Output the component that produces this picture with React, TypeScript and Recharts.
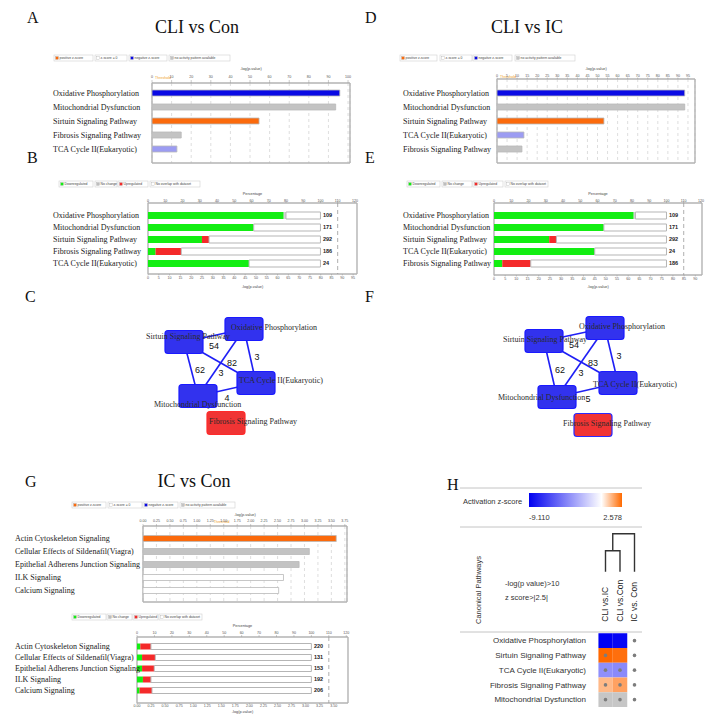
// Figure : IPA canonical pathways — CLI vs Con / CLI vs IC / IC vs Con
// Panneaux A-G dessinés avec recharts, texte statique en surcouche SVG.

import {
  BarChart, Bar, XAxis, YAxis, CartesianGrid, Cell, LabelList,
  ReferenceLine, ScatterChart, Scatter,
} from 'recharts';

const SERIF = '"Liberation Serif", "Times New Roman", serif';
const SANS = '"Liberation Sans", Arial, sans-serif';

// ── A : CLI vs Con, -log(p-value) ───────────────────────────
const pathwaysA = [
  'Oxidative Phosphorylation', 'Mitochondrial Dysfunction', 'Sirtuin Signaling Pathway',
  'Fibrosis Signaling Pathway', 'TCA Cycle II(Eukaryotic)',
];
const logPA = [95.8, 93.7, 54.6, 14.9, 12.7];
const zKindA = ['negative', 'noActivity', 'positive', 'noActivity', 'weakNegative'];
const ticksA = [0, 10, 20, 30, 40, 50, 60, 70, 80, 90, 100];

// ── B : CLI vs Con, % of genes ──────────────────────────────
const downB = [78.7, 61.3, 31.3, 4.4, 58.6];
const noChangeB = [1.3, 0, 0, 0, 0];
const upB = [0, 0, 4.1, 14.9, 0];
const totalB = [109, 171, 292, 186, 24];
const pTicksB = [0, 5, 10, 15, 20, 25, 30, 35, 40, 45, 50, 55, 60, 65, 70, 75, 80, 85, 90, 95];

// ── D : CLI vs IC, -log(p-value) ────────────────────────────
const pathwaysD = [
  'Oxidative Phosphorylation', 'Mitochondrial Dysfunction', 'Sirtuin Signaling Pathway',
  'TCA Cycle II(Eukaryotic)', 'Fibrosis Signaling Pathway',
];
const logPD = [93.4, 93.4, 53.2, 13.4, 12.4];
const zKindD = ['negative', 'noActivity', 'positive', 'weakNegative', 'noActivity'];
const ticksD = [0, 5, 10, 15, 20, 25, 30, 35, 40, 45, 50, 55, 60, 65, 70, 75, 80, 85, 90, 95];

// ── E : CLI vs IC, % of genes ───────────────────────────────
const downE = [81.0, 63.7, 32.0, 58.4, 4.8];
const noChangeE = [1.0, 0, 0, 0, 0];
const upE = [0, 0, 4.2, 0, 16.5];
const totalE = [109, 171, 292, 24, 186];
const pTicksE = [0, 5, 10, 15, 20, 25, 30, 35, 40, 45, 50, 55, 60, 65, 70, 75, 80, 85, 90];

// ── G : IC vs Con ───────────────────────────────────────────
const pathwaysG = [
  'Actin Cytoskeleton Signaling', 'Cellular Effects of Sildenafil(Viagra)',
  'Epithelial Adherens Junction Signaling', 'ILK Signaling', 'Calcium Signaling',
];
const logPG = [3.59, 3.09, 2.9, 2.61, 2.52];
const zKindG = ['positive', 'noActivity', 'noActivity', 'zero', 'zero'];
const ticksG = [0, 0.25, 0.5, 0.75, 1, 1.25, 1.5, 1.75, 2, 2.25, 2.5, 2.75, 3, 3.25, 3.5, 3.75];
const downG = [1.9, 2.9, 2.9, 3.4, 1.5];
const noChangeG = [0, 0, 0, 0, 0];
const upG = [6.1, 7.6, 7.0, 4.6, 7.1];
const totalG = [220, 131, 153, 192, 206];
const pTicksG = [0, 0.25, 0.5, 0.75, 1, 1.25, 1.5, 1.75, 2, 2.25, 2.5, 2.75, 3, 3.25, 3.5];

const pctTicks = [0, 10, 20, 30, 40, 50, 60, 70, 80, 90, 100, 110, 120];
const THRESHOLD = 1.3;

// ── C / F : réseaux ─────────────────────────────────────────
const netNames = [
  'Oxidative Phosphorylation', 'Sirtuin Signaling Pathway', 'TCA Cycle II(Eukaryotic)',
  'Mitochondrial Dysfunction', 'Fibrosis Signaling Pathway',
];
const netDirection = ['down', 'down', 'down', 'down', 'up'];
const edgeFrom = [1, 1, 0, 1, 0, 3];
const edgeTo = [0, 2, 2, 3, 3, 2];
const sharedC = [54, 82, 3, 62, 3, 4];
const sharedF = [54, 83, 3, 62, 3, 5];
// positions du layout (px, centres)
const nodeXC = [244, 184, 256, 198, 226];
const nodeYC = [329, 342, 383, 396, 423];
const nodeLabelXC = [231, 146, 239, 154, 209];
const nodeLabelYC = [327, 336, 380, 404, 421];
const edgeLabelXC = [214, 232, 257, 200, 221, 227];
const edgeLabelYC = [346, 363, 357, 370, 373, 398];
const nodeXF = [605, 544, 618, 557, 593];
const nodeYF = [328, 341, 383, 397, 425];
const nodeLabelXF = [579, 503, 593, 498, 563];
const nodeLabelYF = [326, 339, 384, 397, 423];
const edgeLabelXF = [574, 593, 619, 560, 581, 588];
const edgeLabelYF = [345, 363, 356, 370, 373, 399];

// ── H : heatmap z-score ─────────────────────────────────────
const hmRows = [
  'Oxidative Phosphorylation', 'Sirtuin Signaling Pathway', 'TCA Cycle II(Eukaryotic)',
  'Fibrosis Signaling Pathway', 'Mitochondrial Dysfunction',
];
const hmCols = ['CLI vs.IC', 'CLI vs.Con', 'IC vs. Con'];
// null = no activity pattern ; undefined = pas significatif
const zCliIc = [-9.11, 2.578, -4.0, 1.2, null];
const zCliCon = [-8.9, 2.45, -4.2, 1.6, null];
const zIcCon = [undefined, undefined, undefined, undefined, undefined];
const dotCliIc = [false, true, true, true, true];
const dotCliCon = [false, false, true, true, true];
const dotIcCon = [true, true, true, true, true];
const Z_MIN = -9.11;
const Z_MAX = 2.578;
// dendrogramme : hauteurs de fusion (unités de ligne)
const dendroLeaf = -4.67;
const dendroInner = -6.09;
const dendroOuter = -7.25;

const Z_FILL: Record<string, string> = {
  positive: '#fb6a0c', zero: '#ffffff', negative: '#0a0ae4',
  weakNegative: '#9c9cf2', noActivity: '#c3c3c3',
};

type Frame = {
  left: number; top: number; plotLeft: number; plotTop: number; plotRight: number;
  plotBottom: number; bottom: number; labelX: number; padTop: number; padBottom: number;
};

const frameA: Frame = { left: 50, top: 65, plotLeft: 152, plotTop: 83, plotRight: 350, plotBottom: 163, bottom: 165, labelX: 53, padTop: 3, padBottom: 7 };
const frameD: Frame = { left: 400, top: 65, plotLeft: 497, plotTop: 79, plotRight: 695, plotBottom: 163, bottom: 165, labelX: 403, padTop: 7, padBottom: 7 };
const frameG: Frame = { left: 12, top: 511, plotLeft: 143, plotTop: 526, plotRight: 347, plotBottom: 602, bottom: 604, labelX: 15, padTop: 5.5, padBottom: 5.5 };
const frameB: Frame = { left: 50, top: 190, plotLeft: 148, plotTop: 203, plotRight: 357, plotBottom: 274, bottom: 289, labelX: 53, padTop: 6, padBottom: 5 };
const frameE: Frame = { left: 400, top: 190, plotLeft: 494, plotTop: 203, plotRight: 702, plotBottom: 275, bottom: 289, labelX: 403, padTop: 6, padBottom: 6 };
const frameG2: Frame = { left: 12, top: 622, plotLeft: 137, plotTop: 637, plotRight: 348, plotBottom: 703, bottom: 714, labelX: 15, padTop: 3.5, padBottom: 7.5 };

const tickFont = { fontSize: 3.6, fill: '#555', fontFamily: SANS };

function frameGrid(f: Frame, xAxisId?: string) {
  const extra = xAxisId ? { xAxisId } : {};
  return (
    <CartesianGrid
      {...extra}
      stroke="#b3b3b3"
      strokeWidth={1.4}
      horizontalCoordinatesGenerator={() => [f.plotTop - f.top, f.plotBottom - f.top]}
      verticalCoordinatesGenerator={() => [f.plotLeft - f.left, f.plotRight - f.left]}
    />
  );
}

function nameTick(f: Frame, dy: number) {
  return (p: any) => (
    <text x={f.labelX - f.left} y={p.y + dy} fontFamily={SERIF} fontSize={8} fill="#1a1a1a">
      {p.payload.value}
    </text>
  );
}

function ThresholdLabel({ viewBox, ty }: { viewBox?: { x: number }; ty: number }) {
  return (
    <text x={(viewBox?.x ?? 0) + 0.5} y={ty} fontSize={3.6} fill="#f0a028" fontFamily={SANS}>
      Threshold
    </text>
  );
}

function PValueBars({
  f, names, values, kinds, max, ticks, barSize, tickSize, tickMargin, thrY, fmt,
}: {
  f: Frame; names: string[]; values: number[]; kinds: string[]; max: number; ticks: number[];
  barSize: number; tickSize: number; tickMargin: number; thrY: number; fmt?: (v: number) => string;
}) {
  const data = names.map((name, i) => ({ name, value: values[i], kind: kinds[i] }));
  return (
    <div style={{ position: 'absolute', left: f.left, top: f.top }}>
      <BarChart
        width={f.plotRight - f.left + 4}
        height={f.bottom - f.top}
        data={data}
        layout="vertical"
        margin={{ top: 0, right: 4, bottom: f.bottom - f.plotBottom, left: 0 }}
      >
        <CartesianGrid horizontal={false} stroke="#c8c8c8" strokeWidth={0.6} strokeDasharray="3 3" />
        {frameGrid(f)}
        <XAxis
          type="number" orientation="top" domain={[0, max]} ticks={ticks} interval={0}
          height={f.plotTop - f.top} axisLine={false} tickSize={tickSize} tickMargin={tickMargin}
          tickLine={{ stroke: '#999', strokeWidth: 0.5 }} tick={tickFont} tickFormatter={fmt}
          allowDataOverflow
          label={{ value: '-log(p-value)', position: 'insideTop', offset: 2, fontSize: 3.8, fill: '#444', fontFamily: SANS }}
        />
        <YAxis
          type="category" dataKey="name" width={f.plotLeft - f.left} axisLine={false} tickLine={false}
          interval={0} padding={{ top: f.padTop, bottom: f.padBottom }} tick={nameTick(f, 2.6)}
        />
        <ReferenceLine x={THRESHOLD} stroke="none" label={<ThresholdLabel ty={thrY - f.top} />} />
        <Bar dataKey="value" barSize={barSize} stroke="#b9b9b9" strokeWidth={0.8} isAnimationActive={false}>
          {data.map((d, i) => <Cell key={i} fill={Z_FILL[d.kind]} />)}
        </Bar>
      </BarChart>
    </div>
  );
}

function PercentBars({
  f, names, down, noChange, up, totals, pctMax, pMax, pTicks, barSize, topTick, bottomTick, fmt,
}: {
  f: Frame; names: string[]; down: number[]; noChange: number[]; up: number[]; totals: number[];
  pctMax: number; pMax: number; pTicks: number[]; barSize: number;
  topTick: [number, number]; bottomTick: [number, number]; fmt?: (v: number) => string;
}) {
  const data = names.map((name, i) => ({
    name, down: down[i], noChange: noChange[i], up: up[i],
    rest: 100 - down[i] - noChange[i] - up[i], total: totals[i],
  }));
  return (
    <div style={{ position: 'absolute', left: f.left, top: f.top }}>
      <BarChart
        width={f.plotRight - f.left + 4}
        height={f.bottom - f.top}
        data={data}
        layout="vertical"
        margin={{ top: 0, right: 4, bottom: 0, left: 0 }}
      >
        {frameGrid(f, 'pct')}
        <XAxis
          xAxisId="pct" type="number" orientation="top" domain={[0, pctMax]} ticks={pctTicks} interval={0}
          height={f.plotTop - f.top} axisLine={false} tickSize={topTick[0]} tickMargin={topTick[1]}
          tickLine={{ stroke: '#999', strokeWidth: 0.5 }} tick={tickFont} allowDataOverflow
          label={{ value: 'Percentage', position: 'insideTop', offset: 2, fontSize: 3.8, fill: '#444', fontFamily: SANS }}
        />
        <XAxis
          xAxisId="p" type="number" orientation="bottom" domain={[0, pMax]} ticks={pTicks} interval={0}
          height={f.bottom - f.plotBottom} axisLine={false} tickSize={bottomTick[0]} tickMargin={bottomTick[1]}
          tickLine={{ stroke: '#999', strokeWidth: 0.5 }} tick={tickFont} tickFormatter={fmt} allowDataOverflow
          label={{ value: '-log(p-value)', position: 'insideBottom', offset: 1, fontSize: 3.8, fill: '#444', fontFamily: SANS }}
        />
        <YAxis
          type="category" dataKey="name" width={f.plotLeft - f.left} axisLine={false} tickLine={false}
          interval={0} padding={{ top: f.padTop, bottom: f.padBottom }} tick={nameTick(f, 2.6)}
        />
        <ReferenceLine xAxisId="pct" x={110} stroke="#9a9a9a" strokeWidth={0.8} strokeDasharray="4 3" />
        <Bar xAxisId="pct" dataKey="down" stackId="s" barSize={barSize} fill="#12ee12" isAnimationActive={false} />
        <Bar xAxisId="pct" dataKey="noChange" stackId="s" barSize={barSize} fill="#d4d4d4" isAnimationActive={false} />
        <Bar xAxisId="pct" dataKey="up" stackId="s" barSize={barSize} fill="#f42a2a" isAnimationActive={false} />
        <Bar xAxisId="pct" dataKey="rest" stackId="s" barSize={barSize} fill="#ffffff" stroke="#b5b5b5" strokeWidth={1} isAnimationActive={false}>
          <LabelList dataKey="total" position="right" offset={2.5} fontSize={5.5} fontWeight={700} fill="#222" fontFamily={SANS} />
        </Bar>
      </BarChart>
    </div>
  );
}

function Network({
  left, top, width, height, xs, ys, lxs, lys, shared, elx, ely, redStroke,
}: {
  left: number; top: number; width: number; height: number; xs: number[]; ys: number[];
  lxs: number[]; lys: number[]; shared: number[]; elx: number[]; ely: number[]; redStroke: string;
}) {
  const nodes = netNames.map((name, i) => ({ name, x: xs[i], y: ys[i], lx: lxs[i], ly: lys[i], dir: netDirection[i] }));
  const edgeLabels = shared.map((n, k) => ({ n, x: elx[k], y: ely[k] }));
  const Box = (p: any) => {
    const up = p.payload.dir === 'up';
    return (
      <rect x={p.cx - 19} y={p.cy - 11.5} width={38} height={23} rx={3}
        fill={up ? '#f03434' : '#3232ee'} stroke={up ? redStroke : '#1a1aff'} strokeWidth={1.2} />
    );
  };
  const NodeText = (p: any) => (
    <text x={p.cx + p.payload.lx - p.payload.x} y={p.cy + p.payload.ly - p.payload.y + 2.8}
      fontFamily={SERIF} fontSize={8} fill="#2a2a2a">{p.payload.name}</text>
  );
  const EdgeText = (p: any) => (
    <text x={p.cx} y={p.cy + 3.2} textAnchor="middle" fontFamily={SANS} fontSize={9} fill="#111">
      {p.payload.n}
    </text>
  );
  return (
    <div style={{ position: 'absolute', left, top }}>
      <ScatterChart width={width} height={height} margin={{ top: 0, right: 0, bottom: 0, left: 0 }}>
        <XAxis type="number" dataKey="x" domain={[left, left + width]} hide allowDataOverflow />
        <YAxis type="number" dataKey="y" domain={[top, top + height]} reversed hide allowDataOverflow />
        {edgeFrom.map((a, k) => (
          <Scatter key={k} data={[nodes[a], nodes[edgeTo[k]]]} line={{ stroke: '#1f1ff5', strokeWidth: 1.6 }}
            shape={() => <g />} isAnimationActive={false} />
        ))}
        <Scatter data={nodes} shape={Box} isAnimationActive={false} />
        <Scatter data={nodes} shape={NodeText} isAnimationActive={false} />
        <Scatter data={edgeLabels} shape={EdgeText} isAnimationActive={false} />
      </ScatterChart>
    </div>
  );
}

function mix(a: number[], b: number[], t: number) {
  const c = a.map((v, i) => Math.round(v + (b[i] - v) * t));
  return `rgb(${c[0]},${c[1]},${c[2]})`;
}

function zColor(z: number | null) {
  if (z === null) return '#c6c6c6';
  if (z < 0) return mix([255, 255, 255], [0, 0, 245], Math.min(1, z / Z_MIN));
  return mix([255, 255, 255], [255, 104, 0], Math.min(1, z / Z_MAX));
}

function Heatmap() {
  const left = 460;
  const top = 530.25;
  const zCols = [zCliIc, zCliCon, zIcCon];
  const dotCols = [dotCliIc, dotCliCon, dotIcCon];
  const cells: any[] = [];
  hmRows.forEach((row, r) => {
    hmCols.forEach((col, c) => {
      const z = zCols[c][r];
      cells.push({ x: c, y: r, row, col, show: z !== undefined, fill: z === undefined ? 'none' : zColor(z as any), dot: dotCols[c][r] });
    });
  });
  const colLabels = hmCols.map((name, c) => ({ name, x: c, y: -1.28 }));
  const inner = [
    { x: 0, y: dendroLeaf }, { x: 0, y: dendroInner }, { x: 1, y: dendroInner }, { x: 1, y: dendroLeaf },
  ];
  const outer = [
    { x: 0.5, y: dendroInner }, { x: 0.5, y: dendroOuter }, { x: 2, y: dendroOuter }, { x: 2, y: dendroLeaf },
  ];
  const HeatCell = (p: any) => (
    <g>
      {p.payload.show && (
        <rect x={p.cx - 7.25} y={p.cy - 7.375} width={14.5} height={14.75} fill={p.payload.fill} />
      )}
      {p.payload.dot && <circle cx={p.cx} cy={p.cy} r={1.8} fill="#7d7d7d" />}
    </g>
  );
  const ColLabel = (p: any) => (
    <text x={p.cx + 3} y={p.cy} transform={`rotate(-90 ${p.cx + 3} ${p.cy})`}
      fontFamily={SANS} fontSize={8.5} fill="#222">{p.payload.name}</text>
  );
  const RowTick = (p: any) => (
    <text x={586 - left} y={p.y + 2.8} textAnchor="end" fontFamily={SANS} fontSize={8} fill="#333">
      {hmRows[p.payload.value]}
    </text>
  );
  return (
    <div style={{ position: 'absolute', left, top }}>
      <ScatterChart width={186} height={177} margin={{ top: 0, right: 4.25, bottom: 0, left: 0 }}>
        <XAxis type="number" dataKey="x" domain={[-0.5, 2.5]} hide allowDataOverflow />
        <YAxis type="number" dataKey="y" domain={[-7.5, 4.5]} reversed ticks={[0, 1, 2, 3, 4]} interval={0}
          width={138.25} axisLine={false} tickLine={false} tick={RowTick} allowDataOverflow />
        <Scatter data={cells} shape={HeatCell} isAnimationActive={false} />
        <Scatter data={colLabels} shape={ColLabel} isAnimationActive={false} />
        <Scatter data={inner} line={{ stroke: '#333', strokeWidth: 1.4 }} shape={() => <g />} isAnimationActive={false} />
        <Scatter data={outer} line={{ stroke: '#333', strokeWidth: 1.4 }} shape={() => <g />} isAnimationActive={false} />
      </ScatterChart>
    </div>
  );
}

function LegendRow({ xs, ws, y, labels, colors }: { xs: number[]; ws: number[]; y: number; labels: string[]; colors: string[] }) {
  return (
    <g>
      {labels.map((lab, i) => (
        <g key={i}>
          <rect x={xs[i]} y={y - 3} width={ws[i]} height={6} fill="#fff" stroke="#cfcfcf" strokeWidth={0.6} />
          <rect x={xs[i] + 1.6} y={y - 1.4} width={2.8} height={2.8} fill={colors[i]} stroke="#a0a0a0" strokeWidth={0.3} />
          <text x={xs[i] + 5.6} y={y + 1.3} fontSize={3.4} fill="#444" fontFamily={SANS}>{lab}</text>
        </g>
      ))}
    </g>
  );
}

const zLegendLabels = ['positive z-score', 'z-score = 0', 'negative z-score', 'no activity pattern available'];
const zLegendColors = [Z_FILL.positive, Z_FILL.zero, Z_FILL.negative, Z_FILL.noActivity];
const regLegendLabels = ['Downregulated', 'No change', 'Upregulated', 'No overlap with dataset'];
const regLegendColors = ['#12ee12', '#bdbdbd', '#f42a2a', '#ffffff'];

function Overlay() {
  const letter = { fontFamily: SERIF, fontSize: 16, fill: '#111' };
  const title = { fontFamily: SERIF, fontSize: 18, fill: '#111', textAnchor: 'middle' as const };
  const small = { fontFamily: SANS, fontSize: 7.5, fill: '#333' };
  const whiteAt = (0 - Z_MIN) / (Z_MAX - Z_MIN);
  return (
    <svg width={720} height={728} style={{ position: 'absolute', left: 0, top: 0, pointerEvents: 'none' }}>
      <defs>
        <linearGradient id="zgrad" x1="0" x2="1" y1="0" y2="0">
          <stop offset="0" stopColor="#0000f0" />
          <stop offset={whiteAt} stopColor="#ffffff" />
          <stop offset="1" stopColor="#ff6a00" />
        </linearGradient>
      </defs>
      <text x={27} y={23} {...letter}>A</text>
      <text x={27} y={163} {...letter}>B</text>
      <text x={25} y={302} {...letter}>C</text>
      <text x={365} y={23} {...letter}>D</text>
      <text x={365} y={163} {...letter}>E</text>
      <text x={365} y={302} {...letter}>F</text>
      <text x={25} y={487} {...letter}>G</text>
      <text x={447} y={490} {...letter}>H</text>

      <text x={197} y={33} {...title}>CLI vs Con</text>
      <text x={527} y={33} {...title}>CLI vs IC</text>
      <text x={194} y={487} {...title}>IC vs Con</text>

      <LegendRow xs={[54, 95, 129, 169]} ws={[39, 32, 38, 61]} y={58} labels={zLegendLabels} colors={zLegendColors} />
      <LegendRow xs={[400, 440, 473, 515]} ws={[37, 32, 39, 60]} y={58} labels={zLegendLabels} colors={zLegendColors} />
      <LegendRow xs={[72, 108, 143, 180]} ws={[34, 34, 35, 55]} y={505} labels={zLegendLabels} colors={zLegendColors} />
      <LegendRow xs={[59, 95, 118, 150]} ws={[34, 22, 30, 50]} y={184} labels={regLegendLabels} colors={regLegendColors} />
      <LegendRow xs={[407, 442, 473, 505]} ws={[33, 30, 30, 43]} y={184} labels={regLegendLabels} colors={regLegendColors} />
      <LegendRow xs={[72, 107, 133, 159]} ws={[34, 25, 25, 43]} y={617} labels={regLegendLabels} colors={regLegendColors} />

      {/* H : en-tête du tableau */}
      {[488, 527, 632].map((y) => (
        <line key={y} x1={460} x2={642} y1={y} y2={y} stroke="#c4c4c4" strokeWidth={1} />
      ))}
      <text x={463} y={504} {...small}>Activation z-score</text>
      <rect x={529} y={493} width={93} height={14} fill="url(#zgrad)" />
      <text x={529} y={520} {...small}>{Z_MIN.toFixed(3)}</text>
      <text x={622} y={520} {...small} textAnchor="end">{Z_MAX.toFixed(3)}</text>
      <text x={480.5} y={590} {...small} textAnchor="middle" transform="rotate(-90 480.5 590)">Canonical Pathways</text>
      <text x={505} y={586} {...small}>-log(p value)&gt;10</text>
      <text x={505} y={600} {...small}>z score&gt;|2.5|</text>
    </svg>
  );
}

const fmt2 = (v: number) => v.toFixed(2);

export default function App() {
  return (
    <div style={{ position: 'relative', width: 720, height: 728, background: '#fff', overflow: 'hidden' }}>
      <style>{'body{margin:0}'}</style>
      <PValueBars f={frameA} names={pathwaysA} values={logPA} kinds={zKindA} max={101} ticks={ticksA}
        barSize={6} tickSize={3} tickMargin={2} thrY={78.5} />
      <PercentBars f={frameB} names={pathwaysA} down={downB} noChange={noChangeB} up={upB} totals={totalB}
        pctMax={121.2} pMax={96.8} pTicks={pTicksB} barSize={7} topTick={[1.5, 0]} bottomTick={[1.5, 0.5]} />
      <PValueBars f={frameD} names={pathwaysD} values={logPD} kinds={zKindD} max={98.5} ticks={ticksD}
        barSize={6} tickSize={1.5} tickMargin={0.5} thrY={78} />
      <PercentBars f={frameE} names={pathwaysD} down={downE} noChange={noChangeE} up={upE} totals={totalE}
        pctMax={120.6} pMax={93} pTicks={pTicksE} barSize={7} topTick={[1.5, 0]} bottomTick={[1.5, 0.5]} />
      <Network left={130} top={305} width={220} height={140} xs={nodeXC} ys={nodeYC} lxs={nodeLabelXC}
        lys={nodeLabelYC} shared={sharedC} elx={edgeLabelXC} ely={edgeLabelYC} redStroke="#ff2a2a" />
      <Network left={490} top={305} width={200} height={140} xs={nodeXF} ys={nodeYF} lxs={nodeLabelXF}
        lys={nodeLabelYF} shared={sharedF} elx={edgeLabelXF} ely={edgeLabelYF} redStroke="#2a2aff" />
      <PValueBars f={frameG} names={pathwaysG} values={logPG} kinds={zKindG} max={3.79} ticks={ticksG}
        barSize={6} tickSize={2} tickMargin={2} thrY={522.5} fmt={fmt2} />
      <PercentBars f={frameG2} names={pathwaysG} down={downG} noChange={noChangeG} up={upG} totals={totalG}
        pctMax={121} pMax={3.755} pTicks={pTicksG} barSize={6} topTick={[2, 1]} bottomTick={[1, 0]} fmt={fmt2} />
      <Heatmap />
      <Overlay />
    </div>
  );
}
